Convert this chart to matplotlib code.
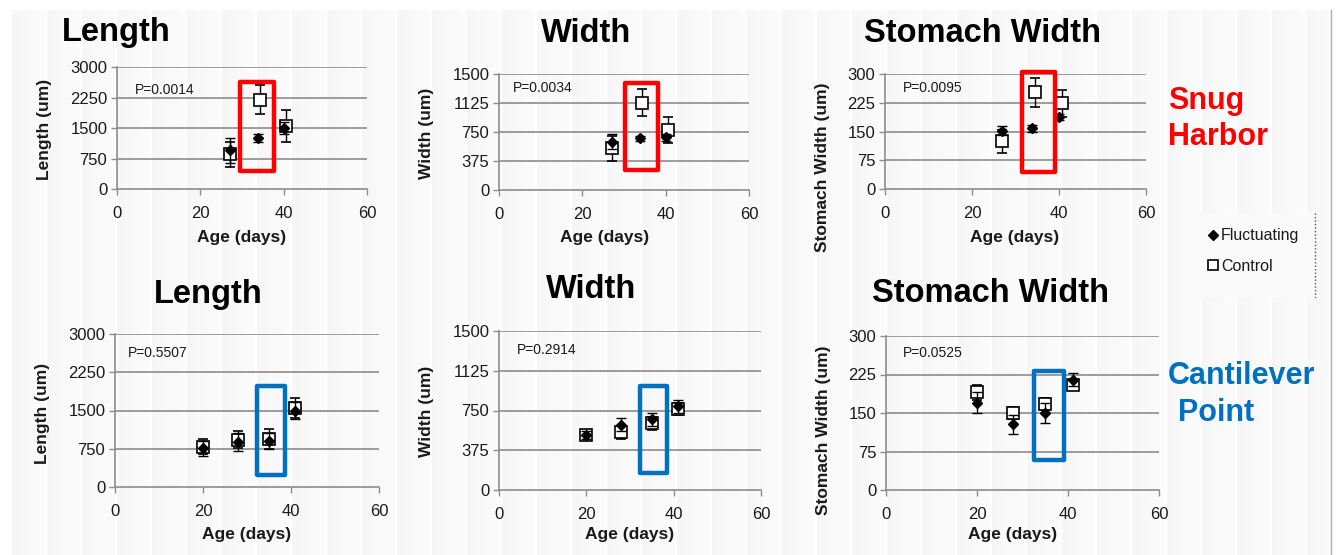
import matplotlib
matplotlib.use("Agg")
import numpy as np
import matplotlib.pyplot as plt
from matplotlib.patches import Rectangle
from matplotlib.lines import Line2D

plt.rcParams['font.family'] = ['Liberation Sans', 'DejaVu Sans']

W, H = 1342, 555

# ---------------- data ----------------
ages_sh_fl = [27, 33.9, 40]
ages_sh_ct = [27, 34.3, 40.5]
sh_len_fl = [950, 1250, 1500]
sh_len_fl_err = [300, 100, 150]
sh_len_ct = [850, 2200, 1550]
sh_len_ct_err = [300, 350, 400]

sh_wid_fl = [625, 670, 680]
sh_wid_fl_err = [100, 30, 50]
sh_wid_ct = [540, 1130, 780]
sh_wid_ct_err = [160, 170, 170]

ages_sh_st_fl = [27, 33.9, 40.1]
ages_sh_st_ct = [27, 34.5, 40.6]
sh_st_fl = [152, 158, 188]
sh_st_fl_err = [12, 10, 8]
sh_st_ct = [125, 252, 224]
sh_st_ct_err = [30, 38, 35]

ages_cp = [20, 28, 35, 41]
cp_len_fl = [760, 880, 900, 1500]
cp_len_fl_err = [150, 170, 160, 170]
cp_len_ct = [790, 930, 940, 1550]
cp_len_ct_err = [150, 170, 200, 200]

cp_wid_fl = [520, 615, 668, 790]
cp_wid_fl_err = [40, 60, 60, 60]
cp_wid_ct = [515, 545, 630, 765]
cp_wid_ct_err = [40, 60, 60, 60]

cp_st_fl = [170, 128, 150, 215]
cp_st_fl_err = [20, 18, 20, 12]
cp_st_ct = [190, 150, 167, 205]
cp_st_ct_err = [15, 12, 12, 10]

p_values = ["P=0.0014", "P=0.0034", "P=0.0095", "P=0.5507", "P=0.2914", "P=0.0525"]
titles = ["Length", "Width", "Stomach Width", "Length", "Width", "Stomach Width"]
ylabels = ["Length (um)", "Width (um)", "Stomach Width (um)",
           "Length (um)", "Width (um)", "Stomach Width (um)"]
yticks_len = [0, 750, 1500, 2250, 3000]
yticks_wid = [0, 375, 750, 1125, 1500]
yticks_st = [0, 75, 150, 225, 300]
xticks = [0, 20, 40, 60]

# ---------------- layout (pixels) ----------------
axes_px = [  # left, right, top, bottom
    (117, 367, 67, 189),
    (499, 749, 74, 190),
    (885, 1146, 74, 189),
    (115, 379, 334, 487),
    (499, 761, 331, 490),
    (886, 1159, 336, 490),
]
title_px = [(116, 32), (586, 33), (983, 33), (208, 294), (591, 290), (990, 293)]
ylab_px = [(45, 129), (427, 133), (822, 167), (42, 413), (427, 411), (823, 430)]
xlab_px = [(242, 237), (605, 237), (1015, 237), (247, 535), (630, 535), (1013, 535)]
p_px = [(135, 90), (513, 88), (903, 88), (128, 353), (517, 350), (903, 353)]
# highlight boxes in data coords: x0, x1, y0, y1
boxes = [
    (29.6, 37.6, 450, 2633, '#FF0000'),
    (30.2, 38.2, 259, 1379, '#FF0000'),
    (31.4, 39.1, 44, 305, '#FF0000'),
    (32.2, 38.6, 241, 1983, '#0070C0'),
    (32.3, 38.4, 164, 983, '#0070C0'),
    (32.5, 39.1, 58, 232, '#0070C0'),
]


def fx(px):
    return px / W


def fy(py):
    return 1 - py / H


fig = plt.figure(figsize=(W / 100, H / 100), dpi=100)
fig.patch.set_facecolor('white')

# background panel with subtle vertical stripes
bg = fig.add_axes([fx(10), 0, fx(1332) - fx(10), fy(10)])
bg.axis('off')
period = 35
pos = np.arange(1322) % period
shade = np.where(pos < 2, 1.0, 0.962 + 0.022 * (pos / period))
bg.imshow(shade[np.newaxis, :], cmap='gray', vmin=0, vmax=1, aspect='auto',
          extent=(0, 1322, 0, 1), interpolation='nearest')
bg.set_xlim(0, 1322)
bg.set_ylim(0, 1)

series = [
    (ages_sh_fl, sh_len_fl, sh_len_fl_err, ages_sh_ct, sh_len_ct, sh_len_ct_err, yticks_len),
    (ages_sh_fl, sh_wid_fl, sh_wid_fl_err, ages_sh_ct, sh_wid_ct, sh_wid_ct_err, yticks_wid),
    (ages_sh_st_fl, sh_st_fl, sh_st_fl_err, ages_sh_st_ct, sh_st_ct, sh_st_ct_err, yticks_st),
    (ages_cp, cp_len_fl, cp_len_fl_err, ages_cp, cp_len_ct, cp_len_ct_err, yticks_len),
    (ages_cp, cp_wid_fl, cp_wid_fl_err, ages_cp, cp_wid_ct, cp_wid_ct_err, yticks_wid),
    (ages_cp, cp_st_fl, cp_st_fl_err, ages_cp, cp_st_ct, cp_st_ct_err, yticks_st),
]

grid_col = '#8c8c8c'
txt_col = '#1a1a1a'

for i, (xf, yf, ef, xc, yc, ec, yt) in enumerate(series):
    l, r, t, b = axes_px[i]
    ax = fig.add_axes([fx(l), fy(b), fx(r) - fx(l), fy(t) - fy(b)])
    ax.patch.set_alpha(0)
    ax.set_xlim(0, 60)
    ax.set_ylim(yt[0], yt[-1])
    ax.set_xticks(xticks)
    ax.set_yticks(yt)
    for y in yt[1:]:
        ax.axhline(y, color=grid_col, lw=1.2, zorder=1)
    for s in ['top', 'right']:
        ax.spines[s].set_visible(False)
    for s in ['left', 'bottom']:
        ax.spines[s].set_color(grid_col)
        ax.spines[s].set_linewidth(1.2)
    ax.tick_params(axis='both', colors=grid_col, labelcolor=txt_col, labelsize=12,
                   length=4, width=1.0, direction='out')
    ax.tick_params(axis='x', pad=8)
    ax.tick_params(axis='y', pad=3)

    # control (open squares)
    ax.errorbar(xc, yc, yerr=ec, fmt='s', mfc='white', mec='black', mew=1.2,
                ms=9, ecolor='black', elinewidth=1, capsize=3.5, capthick=1, zorder=3)
    # fluctuating (filled diamonds)
    ax.errorbar(xf, yf, yerr=ef, fmt='D', color='black', ms=5.5,
                ecolor='black', elinewidth=1, capsize=3.5, capthick=1, zorder=4)

    x0, x1, y0, y1, col = boxes[i]
    ax.add_patch(Rectangle((x0, y0), x1 - x0, y1 - y0, fill=False, ec=col,
                           lw=3.2, zorder=5, clip_on=False, joinstyle='round'))

    fig.text(fx(title_px[i][0]), fy(title_px[i][1]), titles[i], ha='center',
             va='center', fontsize=23.5, fontweight='bold', color='black')
    fig.text(fx(ylab_px[i][0]), fy(ylab_px[i][1]), ylabels[i], ha='center',
             va='center', rotation=90, fontsize=12.5, fontweight='bold', color=txt_col)
    fig.text(fx(xlab_px[i][0]), fy(xlab_px[i][1]), "Age (days)", ha='center',
             va='center', fontsize=12.5, fontweight='bold', color=txt_col)
    fig.text(fx(p_px[i][0]), fy(p_px[i][1]), p_values[i], ha='left',
             va='center', fontsize=10, color=txt_col)

# site labels
fig.text(fx(1168), fy(101), "Snug", ha='left', va='center', fontsize=22,
         fontweight='bold', color='#FF0000')
fig.text(fx(1168), fy(137), "Harbor", ha='left', va='center', fontsize=22,
         fontweight='bold', color='#FF0000')
fig.text(fx(1168), fy(376), "Cantilever", ha='left', va='center', fontsize=22,
         fontweight='bold', color='#0070C0')
fig.text(fx(1178), fy(413), "Point", ha='left', va='center', fontsize=22,
         fontweight='bold', color='#0070C0')

# legend
lg = fig.add_axes([fx(1198), fy(298), fx(1318) - fx(1198), fy(213) - fy(298)])
lg.set_xlim(1198, 1318)
lg.set_ylim(298, 213)
lg.axis('off')
lg.add_patch(Rectangle((1198, 213), 117, 85, color='#fafafa', lw=0, zorder=0))
lg.plot([1315, 1315], [213, 298], color='#555555', lw=1, ls=(0, (1, 1.5)))
lg.plot([1213], [235], marker='D', color='black', ms=5)
lg.plot([1213], [265], marker='s', mfc='white', mec='black', mew=1.2, ms=7)
lg.text(1221, 235, "Fluctuating", ha='left', va='center', fontsize=11.5, color=txt_col)
lg.text(1221, 266, "Control", ha='left', va='center', fontsize=11.5, color=txt_col)

# right edge line
fig.add_artist(Line2D([fx(1331), fx(1331)], [0, fy(10)], color='#b0b0b0', lw=1))

fig.savefig("out.png", dpi=100, facecolor=fig.get_facecolor())
